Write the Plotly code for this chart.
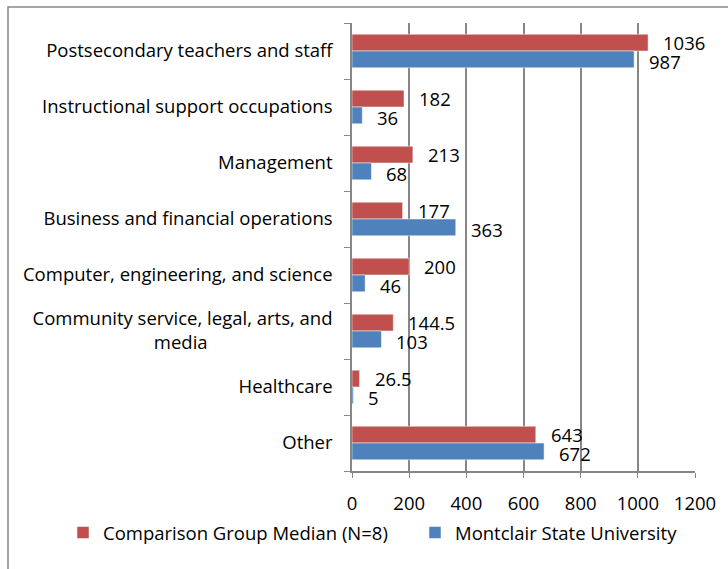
import plotly.graph_objects as go

categories = ["Postsecondary teachers and staff", "Instructional support occupations",
              "Management", "Business and financial operations",
              "Computer, engineering, and science",
              "Community service, legal, arts, and media", "Healthcare", "Other"]
comparison = [1036, 182, 213, 177, 200, 144.5, 26.5, 643]
montclair = [987, 36, 68, 363, 46, 103, 5, 672]

red = "#C0504D"
blue = "#4F81BD"
grey = "#868686"
font = "Open Sans"
fs = 18.5

# excel wraps the long label and centres both lines; nbsp pads the short line
ticktext = []
for c in categories:
    if c.startswith("Community"):
        ticktext.append("Community service, legal, arts, and<br>media" + "\u00a0" * 26)
    else:
        ticktext.append(c)

L, R, T, B = 352, 33, 23, 98
pw, ph = 728 - L - R, 569 - T - B

fig = go.Figure()
fig.add_trace(go.Bar(y=categories, x=comparison, orientation="h", name="Comparison Group Median (N=8)",
                     marker=dict(color=red, line=dict(color="white", width=0.5)), legend="legend"))
fig.add_trace(go.Bar(y=categories, x=montclair, orientation="h", name="Montclair State University",
                     marker=dict(color=blue, line=dict(color="white", width=0.5)), legend="legend2"))

# value labels, offset like the excel ones
for i, cat in enumerate(categories):
    fig.add_annotation(x=comparison[i], y=i - 0.15, text=str(comparison[i]), xref="x", yref="y",
                       showarrow=False, xanchor="left", xshift=13, yshift=0,
                       font=dict(family=font, size=fs, color="black"))
    fig.add_annotation(x=montclair[i], y=i + 0.15, text=str(montclair[i]), xref="x", yref="y",
                       showarrow=False, xanchor="left", xshift=13, yshift=-2,
                       font=dict(family=font, size=fs, color="black"))

leg = dict(orientation="h", xanchor="left", y=(569 - B - 533) / ph, yanchor="middle",
           font=dict(size=fs), bgcolor="rgba(0,0,0,0)")

fig.update_layout(
    width=728, height=569,
    margin=dict(l=L, r=R, t=T, b=B, autoexpand=False),
    plot_bgcolor="white", paper_bgcolor="white",
    barmode="group", bargap=0.4, bargroupgap=0,
    font=dict(family=font, size=fs, color="black"),
    showlegend=True,
    legend=dict(leg, x=(63 - L) / pw),
    legend2=dict(leg, x=(415 - L) / pw),
    xaxis=dict(range=[0, 1200], dtick=200, showgrid=True, gridcolor=grey, gridwidth=1.5,
               showline=True, linecolor=grey, linewidth=1.5, ticks="outside", ticklen=5,
               tickcolor=grey, zeroline=False, ticklabelstandoff=10),
    yaxis=dict(type="category", autorange="reversed", showline=True, linecolor=grey, linewidth=1.5,
               ticks="outside", tickson="boundaries", ticklen=6, tickcolor=grey,
               tickvals=categories, ticktext=ticktext, ticklabelstandoff=14),
)

fig.add_shape(type="rect", xref="paper", yref="paper",
              x0=(8 - L) / pw, x1=2, y0=-1, y1=(569 - B - 7) / ph,
              line=dict(color=grey, width=1.5), fillcolor="rgba(0,0,0,0)")

fig.write_html("out.html", config={"displayModeBar": False},
               post_script="document.body.style.margin='0';")
